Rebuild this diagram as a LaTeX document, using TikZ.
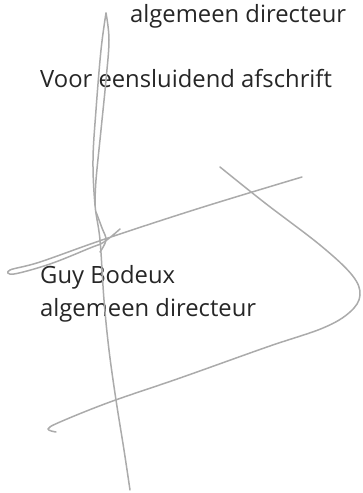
\documentclass[tikz,border=0pt]{standalone}
\usepackage{fontspec}
\setmainfont{Open Sans}
\usepackage{tikz}

\begin{document}
\begin{tikzpicture}[x=1pt,y=-1pt,
    tekst/.style ={anchor=base west, inner sep=0pt, text=black!85, font=\fontsize{23.8}{28}\selectfont},
    pen/.style ={draw=black!33, line width=1.5pt, line cap=round, line join=round}]
   \useasboundingbox (0,0) rectangle (363,493);
   \node[tekst] (T) at (130,22)  {algemeen directeur};
   \node[tekst] (V) at (40,87)  {Voor eensluidend afschrift};
   \node[tekst] (N) at (40,283)  {Guy Bodeux};
   \node[tekst] (F) at (40,316)  {algemeen directeur};
   % handtekening
   \draw[pen] plot[smooth, tension=0.6] coordinates {(106,13) (101,50) (96,110) (93,160) (95,205) (100,240) (104,300) (109,350) (116,400) (124,450) (130,490)};
   \draw[pen] plot[smooth, tension=0.6] coordinates {(106,13) (109,40) (106,80) (101,130) (96,180) (95,205)};
   \draw[pen] plot[smooth, tension=0.6] coordinates {(96,212) (102,228) (106,240) (100,252)};
   \draw[pen] plot[smooth, tension=0.6] coordinates {(302,177) (200,208) (105,239) (40,262) (10,270) (14,274) (50,264) (90,248) (104,242) (120,229)};
   \draw[pen] plot[smooth, tension=0.6] coordinates {(220,167) (265,203) (320,245) (352,275) (360,295) (350,312) (323,328) (267,347) (180,378) (110,402) (60,422) (48,429) (56,432)};
\end{tikzpicture}
\end{document}
